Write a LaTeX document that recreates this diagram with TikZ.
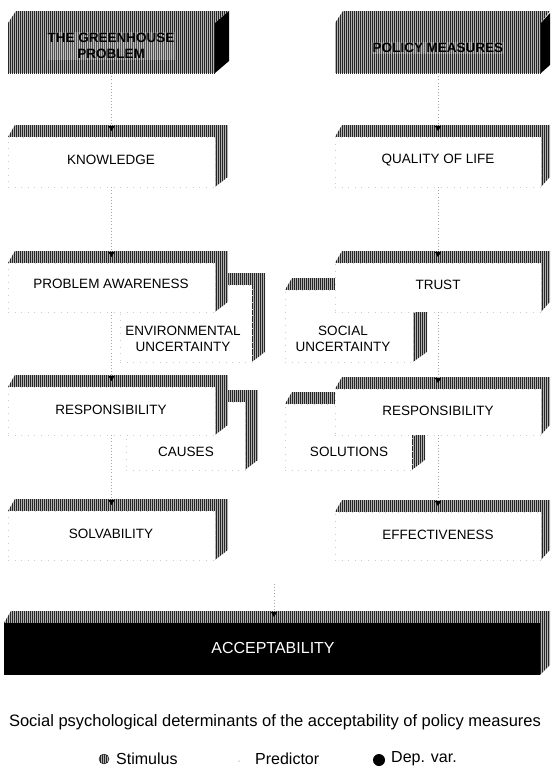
\documentclass[tikz,border=0pt]{standalone}
\usepackage{fontspec}
\setmainfont{Liberation Sans}
\usetikzlibrary{patterns.meta,arrows.meta}
\newcommand{\pbox}[6]{%
  \path[hatch] (#2,#3) -- ({#2+7},{#3-12}) -- ({#4+#6},{#3-12}) -- ({#4+#6},{#5-10}) -- (#4,#5) -- (#4,#3) -- cycle;
  \node[front, minimum width={#4-#2}, minimum height={#5-#3}] (#1) at ({(#2+#4)/2},{(#3+#5)/2}) {};
}
\begin{document}
\begin{tikzpicture}[x=1pt,y=-1pt,
  hatch/.style={fill=gray!60, postaction={pattern={Lines[angle=90,distance=2pt,line width=0.75pt]}, pattern color=black!85}},
  front/.style={fill=white, draw=gray!40, dash pattern=on 0.6pt off 6pt, inner sep=0pt},
  lbl/.style={font=\fontsize{13.5}{16}\selectfont, align=center, inner sep=0pt},
  stimlbl/.style={font=\bfseries\fontsize{13.5}{16.5}\selectfont, align=center, inner sep=1pt, fill=white, fill opacity=0.2, text opacity=1},
  conn/.style={draw=gray!70, dash pattern=on 0.6pt off 2.5pt, -{Triangle[width=6pt,length=5pt,color=black]}},
  legtxt/.style={font=\fontsize{16}{18}\selectfont, inner sep=0pt, anchor=west},
]
\useasboundingbox (0,0) rectangle (550,771);
\fill[white] (0,0) rectangle (550,771);

% ---- stimulus blocks ----
\path[hatch] (8,23) -- (16,11) -- (229,11) -- (215,23) -- cycle;
\node[hatch, inner sep=0pt, minimum width=207, minimum height=50] (gh) at (111.5,48) {};
\fill[black] (215,23) -- (229,11) -- (229,61) -- (215,73) -- cycle;
\node[stimlbl] (ghT) at (111,46) {THE GREENHOUSE\\PROBLEM};

\path[hatch] (335,23) -- (343,11) -- (550,11) -- (541,23) -- cycle;
\node[hatch, inner sep=0pt, minimum width=206, minimum height=50] (pm) at (438,48) {};
\fill[black] (541,23) -- (550,13) -- (550,65) -- (541,73) -- cycle;
\node[stimlbl] (pmT) at (438,48) {POLICY MEASURES};

% ---- boxes behind ----
\pbox{env}{120}{285}{252}{362}{13}
\pbox{cau}{126}{402}{245}{470}{13}
\pbox{soc}{285}{290}{413}{362}{14}
\pbox{sol}{285}{404}{412}{470}{13}

% ---- main predictor boxes ----
\pbox{kn}{8}{137}{215}{187}{13}
\pbox{pa}{8}{263}{215}{312}{13}
\pbox{resp}{8}{387}{215}{435}{13}
\pbox{solv}{8}{511}{215}{560}{13}
\pbox{qol}{335}{137}{541}{187}{9}
\pbox{trust}{335}{263}{541}{312}{9}
\pbox{resp2}{335}{389}{541}{435}{9}
\pbox{eff}{335}{512}{541}{560}{9}

% ---- acceptability ----
\path[hatch] (4,623) -- (11,611) -- (550,611) -- (550,665) -- (540,675) -- (540,623) -- cycle;
\node[fill=black, inner sep=0pt, minimum width=536, minimum height=52] (acc) at (272,649) {};
\node[lbl, text=white, font=\fontsize{16}{18}\selectfont] (accT) at (273,648) {ACCEPTABILITY};

% ---- labels ----
\node[lbl] (knT) at (111,160) {KNOWLEDGE};
\node[lbl] (paT) at (111,284) {PROBLEM AWARENESS};
\node[lbl] (envT) at (183,339) {ENVIRONMENTAL\\UNCERTAINTY};
\node[lbl] (respT) at (111,410) {RESPONSIBILITY};
\node[lbl] (cauT) at (186,452) {CAUSES};
\node[lbl] (solvT) at (111,534) {SOLVABILITY};
\node[lbl] (qolT) at (438,160) {QUALITY OF LIFE};
\node[lbl] (trustT) at (438,285) {TRUST};
\node[lbl] (socT) at (343,339) {SOCIAL\\UNCERTAINTY};
\node[lbl] (resp2T) at (438,411) {RESPONSIBILITY};
\node[lbl] (solT) at (349,452) {SOLUTIONS};
\node[lbl] (effT) at (438,535) {EFFECTIVENESS};

% ---- connectors ----
\coordinate (kn-in) at (111.5,131);
\coordinate (pa-in) at (111.5,257);
\coordinate (resp-in) at (111.5,381);
\coordinate (solv-in) at (111.5,505);
\coordinate (qol-in) at (438,131);
\coordinate (trust-in) at (438,257);
\coordinate (resp2-in) at (438,383);
\coordinate (eff-in) at (438,506);
\coordinate (acc-src) at (274,584);
\coordinate (acc-in) at (274,617);
\draw[conn] (gh.south) -- (kn-in);
\draw[conn] (kn.south) -- (pa-in);
\draw[conn] (pa.south) -- (resp-in);
\draw[conn] (resp.south) -- (solv-in);
\draw[conn] (pm.south) -- (qol-in);
\draw[conn] (qol.south) -- (trust-in);
\draw[conn] (trust.south) -- (resp2-in);
\draw[conn] (resp2.south) -- (eff-in);
\draw[conn] (acc-src) -- (acc-in);

% ---- caption and legend ----
\node[inner sep=0pt, font=\fontsize{16.5}{18}\selectfont] (cap) at (275,722) {Social psychological determinants of the acceptability of policy measures};
\node[circle, hatch, draw=black, line width=0.4pt, minimum size=10, inner sep=0pt] (lg1) at (104,759) {};
\node[legtxt] (lg1T) at (116,759) {Stimulus};
\node[circle, fill=gray!60, minimum size=1.5, inner sep=0pt] (lg2) at (239,761) {};
\node[legtxt] (lg2T) at (255,759) {Predictor};
\node[circle, fill=black, minimum size=12, inner sep=0pt] (lg3) at (379,760) {};
\node[legtxt] (lg3T) at (391,759) {Dep. var.};
\end{tikzpicture}
\end{document}
